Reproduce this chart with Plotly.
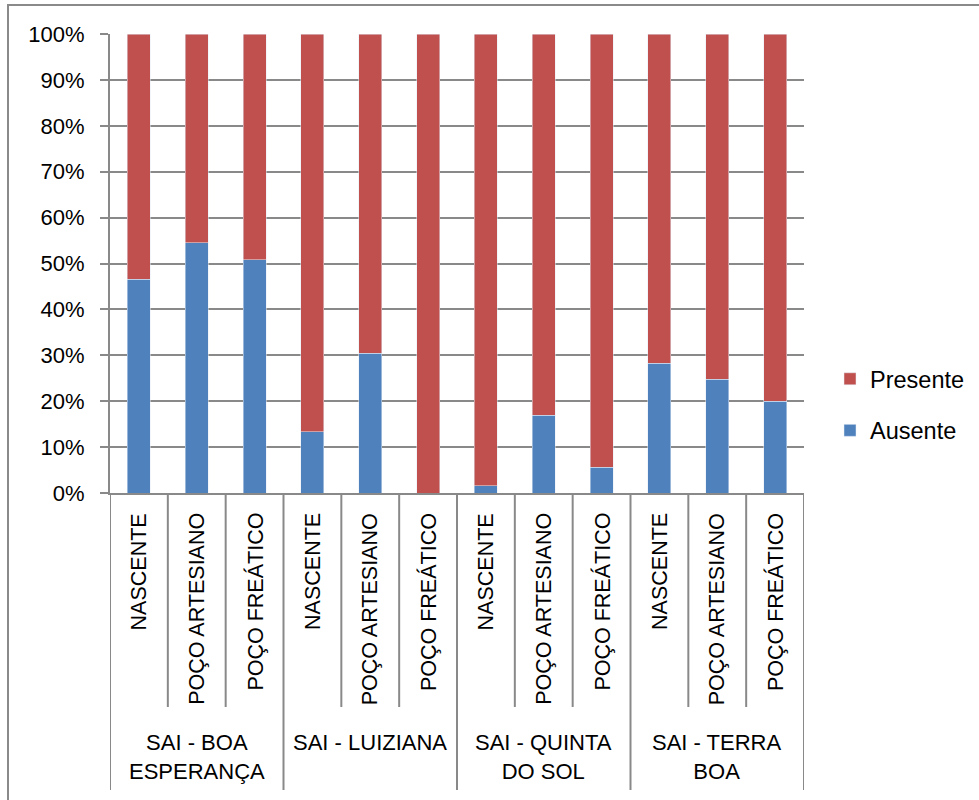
import plotly.graph_objects as go

# Sampling sites, source types and share of samples (Ausente / Presente)
groups = ["SAI - BOA<br>ESPERANÇA", "SAI - LUIZIANA", "SAI - QUINTA<br>DO SOL", "SAI - TERRA<br>BOA"]
sources = ["NASCENTE", "POÇO ARTESIANO", "POÇO FREÁTICO"]
ausente = [0.466, 0.545, 0.508, 0.133, 0.304, 0.0, 0.016, 0.169, 0.056, 0.283, 0.248, 0.20]
presente = [1 - v for v in ausente]
y_ticks = [0, 0.1, 0.2, 0.3, 0.4, 0.5, 0.6, 0.7, 0.8, 0.9, 1.0]

BLUE = "#4F81BD"
RED = "#C0504D"
GRID = "#898989"
FONT = "Liberation Sans, Arial, sans-serif"

W, H = 979, 800
L, R, T, B = 110, 804, 34, 493  # plot area in pixels
pw, ph = R - L, B - T


def px_x(p):
    return (p - L) / pw


def px_y(p):
    return (B - p) / ph


n = len(groups) * len(sources)
xs = list(range(n))

fig = go.Figure()
fig.add_trace(go.Bar(x=xs, y=ausente, name="Ausente", marker_color=BLUE,
                     width=0.4, legendgroup="a", legendrank=2))
fig.add_trace(go.Bar(x=xs, y=presente, name="Presente", marker_color=RED,
                     width=0.4, legendgroup="p", legendrank=1))

shapes = []
# outer chart border
shapes.append(dict(type="rect", xref="paper", yref="paper",
                   x0=px_x(8), x1=px_x(990), y0=px_y(5), y1=px_y(810),
                   line=dict(color="#8a8a8a", width=2), layer="below"))
# category axis dividers
for k in range(n + 1):
    xb = k - 0.5
    bottom = 790 if k % len(sources) == 0 else 707
    shapes.append(dict(type="line", xref="x", yref="paper",
                       x0=xb, x1=xb, y0=0, y1=px_y(bottom),
                       line=dict(color=GRID, width=2)))

annotations = []
for i in xs:
    annotations.append(dict(x=i, y=px_y(511), xref="x", yref="paper",
                            text=sources[i % len(sources)], textangle=-90,
                            showarrow=False, xanchor="center", yanchor="top",
                            font=dict(family=FONT, size=21.5, color="#000000")))
for g, name in enumerate(groups):
    xc = g * len(sources) + (len(sources) - 1) / 2
    annotations.append(dict(x=xc, y=px_y(728), xref="x", yref="paper",
                            text=name, showarrow=False, xanchor="center",
                            yanchor="top", align="center",
                            font=dict(family=FONT, size=22, color="#000000")))

fig.update_layout(
    width=W, height=H,
    margin=dict(l=L, r=W - R, t=T, b=H - B, pad=0, autoexpand=False),
    barmode="stack",
    plot_bgcolor="white", paper_bgcolor="white",
    font=dict(family=FONT, size=22, color="#000000"),
    shapes=shapes, annotations=annotations,
    legend=dict(x=px_x(830), y=px_y(405), xanchor="left", yanchor="middle",
                traceorder="grouped", tracegroupgap=18,
                font=dict(family=FONT, size=23.5), itemwidth=30,
                bgcolor="rgba(0,0,0,0)"),
    xaxis=dict(range=[-0.5, n - 0.5], showticklabels=False, showgrid=False,
               zeroline=False, showline=True, linecolor=GRID, linewidth=2,
               fixedrange=True),
    yaxis=dict(range=[0, 1], tickvals=y_ticks, tickformat=".0%",
               showgrid=True, gridcolor=GRID, gridwidth=2,
               zeroline=False, showline=True, linecolor=GRID, linewidth=2,
               ticks="outside", ticklen=8, tickcolor=GRID, tickwidth=2,
               ticklabelstandoff=11,
               tickfont=dict(family=FONT, size=22)),
)

fig.write_html("out.html")
